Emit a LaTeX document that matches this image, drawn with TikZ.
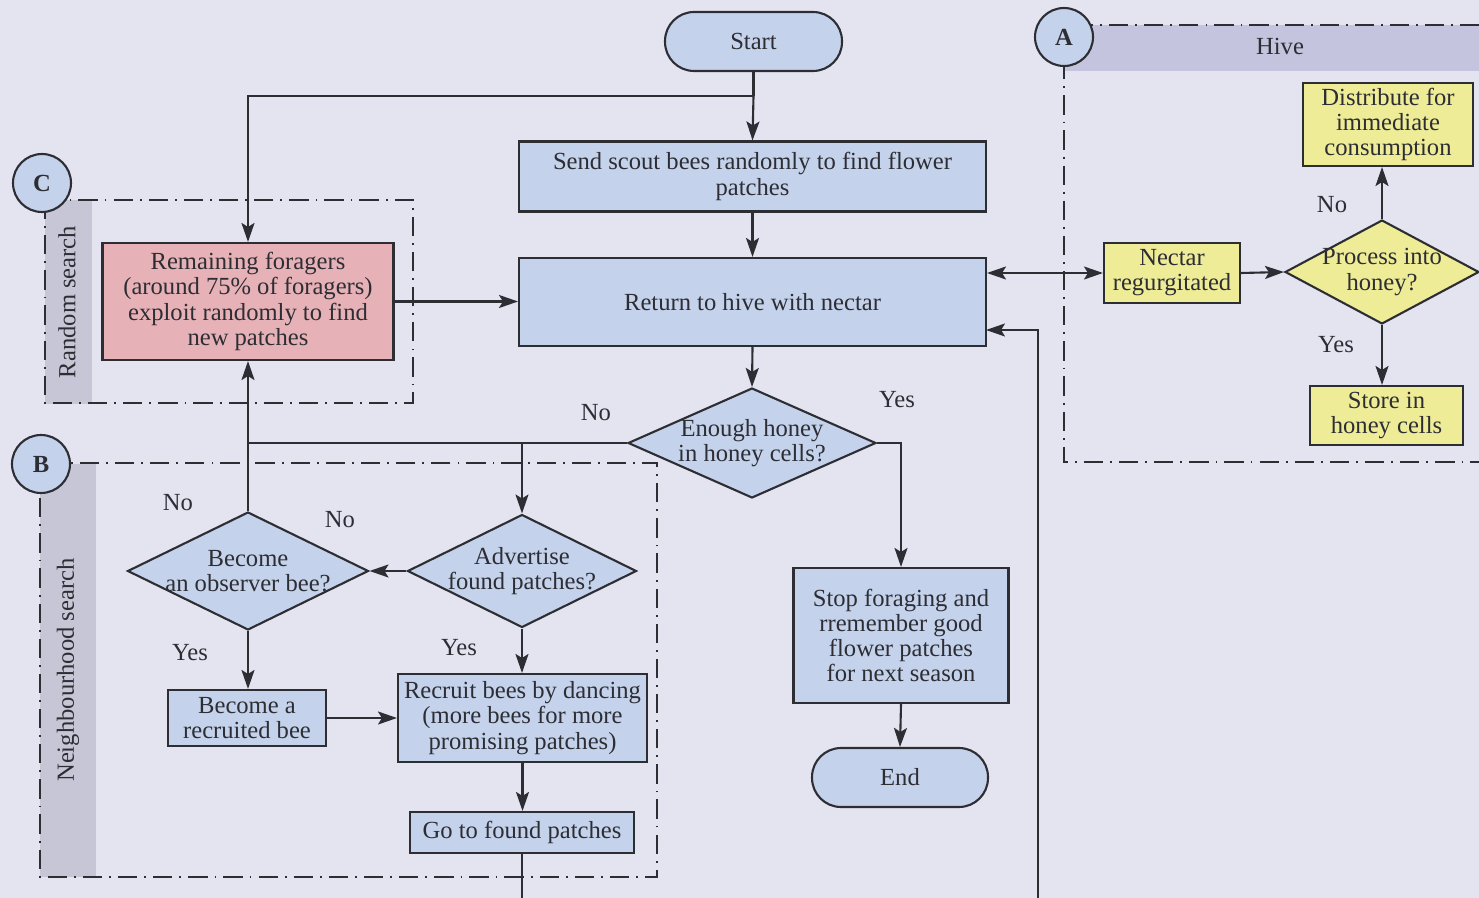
\documentclass[tikz,border=0pt]{standalone}
\usepackage{fontspec}
\setmainfont{Liberation Serif}
\usetikzlibrary{shapes.geometric,arrows.meta,calc}
\definecolor{bgcol}{RGB}{228,228,240}
\definecolor{bluefill}{RGB}{196,211,235}
\definecolor{redfill}{RGB}{231,178,183}
\definecolor{yelfill}{RGB}{238,236,150}
\definecolor{bandgray}{RGB}{198,198,214}
\definecolor{bandhive}{RGB}{196,196,222}
\definecolor{ink}{RGB}{45,45,52}
\begin{document}
\begin{tikzpicture}[x=0.02cm,y=-0.02cm,
  font=\fontsize{14}{14.3}\selectfont, text=ink,
  base/.style={draw=ink, line width=1.2pt, align=center, inner sep=0pt},
  proc/.style={base, rectangle, fill=bluefill},
  term/.style={proc, rounded corners=0.58cm},
  dia/.style={base, diamond, fill=bluefill},
  tip/.tip={Stealth[length=0.38cm,width=0.26cm,inset=0.08cm]},
  arr/.style={draw=ink, line width=1.2pt, -tip},
  ln/.style={draw=ink, line width=1.2pt},
  frame/.style={draw=ink, line width=1pt, dash pattern=on 11pt off 4pt on 1pt off 4pt},
  tag/.style={circle, draw=ink, line width=1.2pt, fill=bluefill, minimum size=1.16cm, inner sep=0pt, font=\fontsize{14}{14}\selectfont\bfseries},
  lbl/.style={inner sep=1pt}]

% canvas
\fill[bgcol] (0,0) rectangle (1479,898);
\clip (0,0) rectangle (1479,898);

% ---- grouping frames ----
% C: random search
\fill[bandgray] (45,200) rectangle (92,404);
\draw[frame] (45,200) rectangle (413,403);
\node[rotate=90] (rstext) at (67,302) {Random search};
% B: neighbourhood search
\fill[bandgray] (40,464) rectangle (96,877);
\draw[frame] (40,463) rectangle (657,877);
\node[rotate=90] (nstext) at (68,670) {Neighbourhood search};
% A: hive
\fill[bandhive] (1064,25) rectangle (1479,71);
\draw[frame] (1064,25) rectangle (1520,462);
\node (hivetext) at (1280,46) {Hive};

% ---- nodes ----
\node[term, minimum width=3.54cm, minimum height=1.18cm] (start) at (753.5,41.5) {Start};
\node[proc, minimum width=9.34cm, minimum height=1.40cm] (scout) at (752.5,176.5) {Send scout bees randomly to find flower\\patches};
\node[proc, minimum width=9.34cm, minimum height=1.76cm] (ret) at (752.5,302) {Return to hive with nectar};
\node[dia, minimum width=4.96cm, minimum height=2.2cm, label={[align=center]center:Enough honey\\in honey cells?}] (enough) at (752,443) {};
\node[proc, fill=redfill, minimum width=5.82cm, minimum height=2.34cm] (remain) at (248,301.5) {Remaining foragers\\(around 75\% of foragers)\\exploit randomly to find\\new patches};
\node[dia, minimum width=4.82cm, minimum height=2.36cm, label={[align=center]center:Become\\an observer bee?}] (obs) at (248,571) {};
\node[dia, minimum width=4.58cm, minimum height=2.26cm, label={[align=center]center:Advertise\\found patches?}] (adv) at (522,571) {};
\node[proc, minimum width=3.16cm, minimum height=1.12cm] (recd) at (247,718) {Become a\\recruited bee};
\node[proc, minimum width=4.98cm, minimum height=1.76cm] (recruit) at (522.5,718) {Recruit bees by dancing\\(more bees for more\\promising patches)};
\node[proc, minimum width=4.48cm, minimum height=0.82cm] (goto) at (522,832.5) {Go to found patches};
\node[proc, minimum width=4.3cm, minimum height=2.7cm] (stop) at (901,635.5) {Stop foraging and\\rremember good\\flower patches\\for next season};
\node[term, minimum width=3.52cm, minimum height=1.18cm] (end) at (900,777.5) {End};
\node[proc, fill=yelfill, minimum width=2.72cm, minimum height=1.2cm] (nectar) at (1172,273) {Nectar\\regurgitated};
\node[dia, fill=yelfill, minimum width=3.88cm, minimum height=2.08cm, label={[align=center]center:Process into\\honey?}] (proc) at (1382,272) {};
\node[proc, fill=yelfill, minimum width=3.4cm, minimum height=1.66cm] (dist) at (1388,124.5) {Distribute for\\immediate\\consumption};
\node[proc, fill=yelfill, minimum width=3.06cm, minimum height=1.18cm] (store) at (1386.5,415.5) {Store in\\honey cells};

% section tags
\node[tag] (tagC) at (42,183) {C};
\node[tag] (tagB) at (41,464) {B};
\node[tag] (tagA) at (1064,37) {A};

% ---- connectors ----
\coordinate (split) at ($(start.south)+(0,24)$);
\draw[ln] (start.south) -- (split);
\draw[arr] (split) -- (scout.north);
\draw[arr] (split) -| (remain.north);
\draw[arr] (scout.south) -- (ret.north);
\draw[arr] (remain.east) -- (remain.east -| ret.west);
\draw[arr] (ret.south) -- (enough.north);

% "No" branch of the honey test
\draw[ln] (enough.west) -- (enough.west -| obs.north);
\draw[arr] (obs.north) -- (remain.south);
\draw[arr] (enough.west -| adv.north) -- (adv.north);
\node[lbl] (noE) at (596,413) {No};

% "Yes" branch of the honey test
\draw[arr] (enough.east) -| (stop.north);
\node[lbl] (yesE) at (897,400) {Yes};
\draw[arr] (stop.south) -- (end.north);

% neighbourhood search
\draw[arr] (adv.west) -- (obs.east);
\node[lbl] (noA) at (340,520) {No};
\node[lbl] (noO) at (178,503) {No};
\draw[arr] (obs.south) -- (obs.south |- recd.north);
\node[lbl] (yesO) at (190,653) {Yes};
\draw[arr] (adv.south) -- (adv.south |- recruit.north);
\node[lbl] (yesA) at (459,648) {Yes};
\draw[arr] (recd.east) -- (recd.east -| recruit.west);
\draw[arr] (recruit.south) -- (recruit.south |- goto.north);
\coordinate (gobot) at (522,905);
\draw[ln] (goto.south) -- (gobot);

% return path into the hive
\coordinate (backbot) at (1038,905);
\coordinate (backin) at (986,330);
\draw[arr] (backbot) |- (backin);

% hive
\draw[ln, tip-tip] (nectar.west -| ret.east) -- (nectar.west);
\draw[arr] (nectar.east) -- (proc.west);
\draw[arr] (proc.north) -- (proc.north |- dist.south);
\node[lbl] (noP) at (1332,205) {No};
\draw[arr] (proc.south) -- (proc.south |- store.north);
\node[lbl] (yesP) at (1336,345) {Yes};
\end{tikzpicture}
\end{document}
